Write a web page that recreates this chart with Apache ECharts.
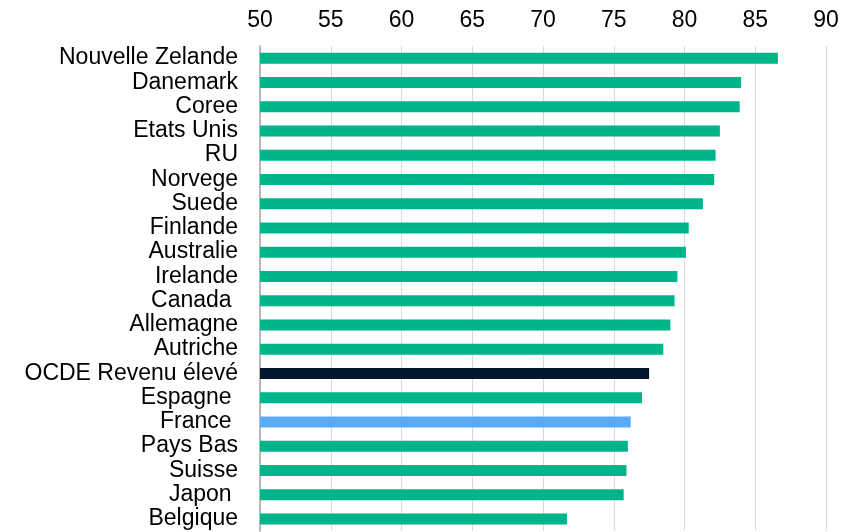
<!DOCTYPE html>
<html>
<head>
<meta charset="utf-8">
<script src="https://cdn.jsdelivr.net/npm/echarts@6/dist/echarts.min.js"></script>
<style>
  html, body { margin: 0; padding: 0; background: #fff; }
  #chart { width: 855px; height: 532px; }
</style>
</head>
<body>
<div id="chart"></div>
<script>
// Countries, top to bottom
const countries = [
  "Nouvelle Zelande", "Danemark", "Coree", "Etats Unis", "RU", "Norvege",
  "Suede", "Finlande", "Australie", "Irelande", "Canada ", "Allemagne",
  "Autriche", "OCDE Revenu élevé", "Espagne ", "France ", "Pays Bas",
  "Suisse", "Japon ", "Belgique"
];
const scores = [
  86.6, 84.0, 83.9, 82.5, 82.2, 82.1,
  81.3, 80.3, 80.1, 79.5, 79.3, 79.0,
  78.5, 77.5, 77.0, 76.2, 76.0,
  75.9, 75.7, 71.7
];
const xTicks = [50, 55, 60, 65, 70, 75, 80, 85, 90];

const GREEN = "#00b48a";
const NAVY = "#00172d";
const BLUE = "#5aaafa";

function barColor(name) {
  if (name.startsWith("OCDE")) return NAVY;
  if (name.trim() === "France") return BLUE;
  return GREEN;
}

const chart = echarts.init(document.getElementById("chart"), null, { renderer: "canvas" });
chart.setOption({
  animation: false,
  backgroundColor: "#ffffff",
  grid: { left: 260, right: 29, top: 46, bottom: 1, containLabel: false },
  xAxis: {
    type: "value",
    position: "top",
    min: xTicks[0],
    max: xTicks[xTicks.length - 1],
    interval: 5,
    axisLine: { show: false },
    axisTick: { show: false },
    axisLabel: {
      margin: 14,
      color: "#000",
      fontFamily: "Liberation Sans, Arial, sans-serif",
      fontSize: 23
    },
    splitLine: { show: true, lineStyle: { color: "#d9d9d9", width: 1 } }
  },
  yAxis: {
    type: "category",
    inverse: true,
    data: countries,
    axisLine: { show: true, lineStyle: { color: "#a6a6a6", width: 1.5 } },
    axisTick: { show: false },
    axisLabel: {
      margin: 22,
      color: "#000",
      fontFamily: "Liberation Sans, Arial, sans-serif",
      fontSize: 23,
      interval: 0
    },
    splitLine: { show: false }
  },
  series: [{
    type: "bar",
    data: scores.map((v, i) => ({ value: v, itemStyle: { color: barColor(countries[i]) } })),
    barWidth: 11,
    silent: true
  }]
});
</script>
</body>
</html>
